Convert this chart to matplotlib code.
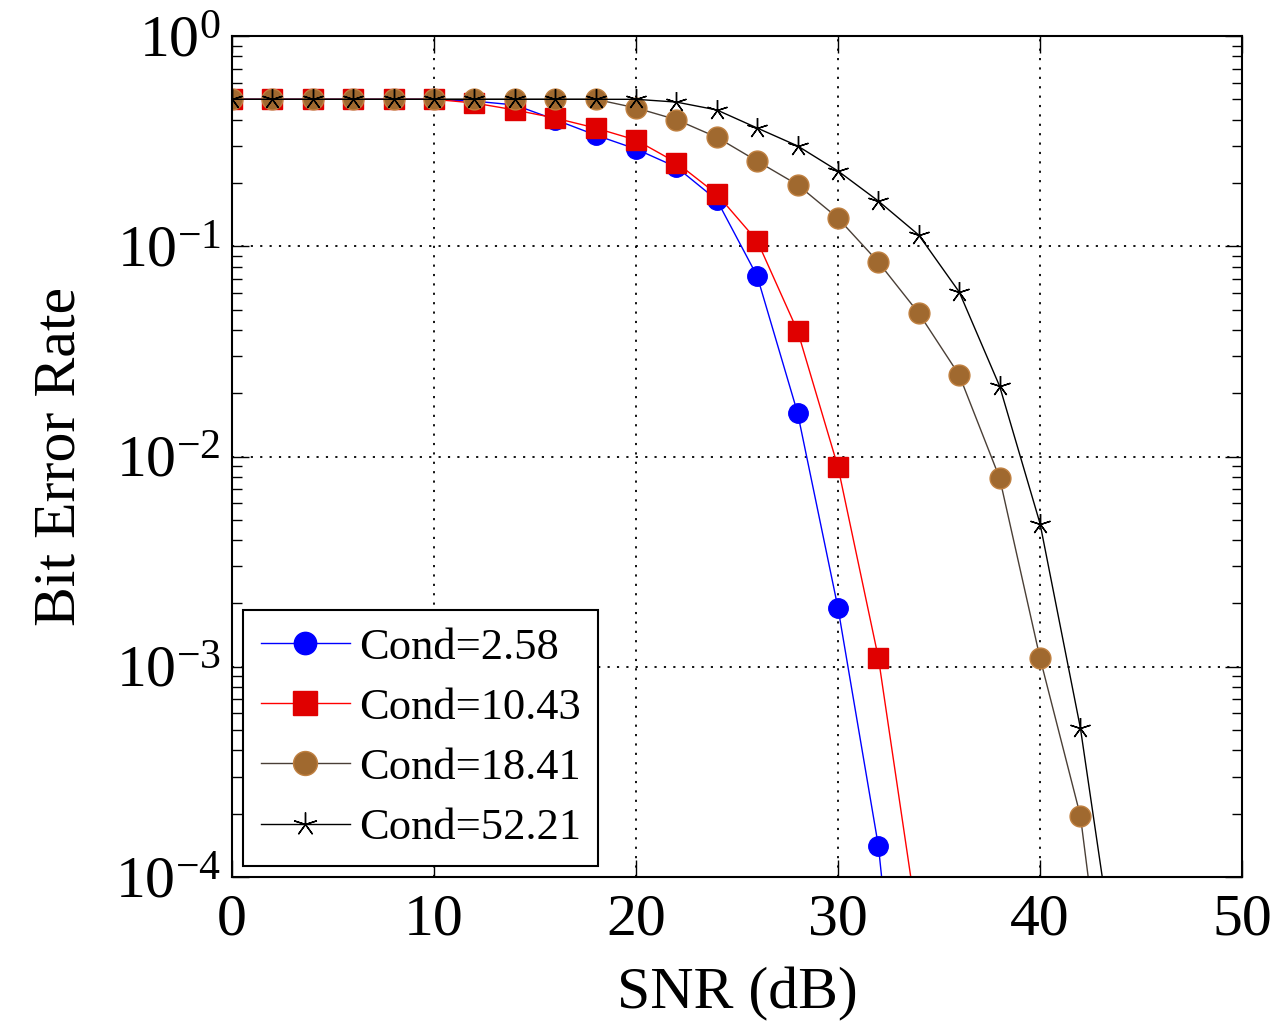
import matplotlib.pyplot as plt
import numpy as np

plt.rcParams['font.family'] = ['Liberation Serif', 'DejaVu Serif']
plt.rcParams['mathtext.fontset'] = 'stix'

snr = [0, 2, 4, 6, 8, 10, 12, 14, 16, 18, 20, 22, 24, 26, 28, 30, 32, 34, 36, 38, 40, 42, 44]

ber_258 = [0.5, 0.5, 0.5, 0.5, 0.5, 0.5, 0.49, 0.47, 0.40, 0.338, 0.29, 0.238,
           0.166, 0.072, 0.0161, 0.0019, 1.4e-4, 2e-6]
ber_1043 = [0.5, 0.5, 0.5, 0.5, 0.5, 0.5, 0.48, 0.445, 0.407, 0.365, 0.32, 0.25,
            0.177, 0.106, 0.0395, 0.0089, 0.0011, 5.5e-5]
ber_1841 = [0.5, 0.5, 0.5, 0.5, 0.5, 0.5, 0.5, 0.5, 0.5, 0.5, 0.455, 0.40,
            0.33, 0.254, 0.196, 0.136, 0.084, 0.048, 0.0244, 0.0079, 0.0011,
            1.95e-4, 6e-6]
ber_5221 = [0.5, 0.5, 0.5, 0.5, 0.5, 0.5, 0.5, 0.5, 0.5, 0.5, 0.5, 0.485,
            0.445, 0.365, 0.30, 0.228, 0.164, 0.113, 0.0606, 0.0216, 0.0048,
            5.1e-4, 2.5e-5]

fig = plt.figure(figsize=(12.79, 10.32), dpi=100)
ax = fig.add_axes([0.1814, 0.1502, 0.7897, 0.8149])

brown = '#a0692f'
ax.plot(snr[:len(ber_258)], ber_258, color='blue', lw=1.0, marker='o', ms=14,
        mfc='blue', mec='blue', label='Cond=2.58')
ax.plot(snr[:len(ber_1043)], ber_1043, color='red', lw=1.0, marker='s', ms=15,
        mfc='#e00000', mec='#e00000', label='Cond=10.43')
ax.plot(snr[:len(ber_1841)], ber_1841, color='#4a3f36', lw=1.0, marker='o', ms=15,
        mfc=brown, mec='#c08040', label='Cond=18.41')
ax.plot(snr[:len(ber_5221)], ber_5221, color='black', lw=1.0, marker=(5, 2, 0), ms=15,
        mec='black', mew=1.0, label='Cond=52.21')

ax.set_yscale('log')
ax.set_xlim(0, 50)
ax.set_ylim(1e-4, 1)
ax.set_xticks([0, 10, 20, 30, 40, 50])
ax.set_yticks([1e-4, 1e-3, 1e-2, 1e-1, 1])

ax.grid(True, which='major', color='black', linestyle=(0, (1.2, 4)), linewidth=1.3)
ax.tick_params(which='both', direction='in', top=True, right=True, labelsize=43)
ax.tick_params(axis='x', pad=12)
ax.tick_params(axis='y', pad=8)
ax.tick_params(which='major', length=12, width=1)
ax.tick_params(which='minor', length=7, width=1)
ax.tick_params(axis='x', which='minor', bottom=False, top=False)
for s in ax.spines.values():
    s.set_linewidth(1.5)

ax.set_xlabel('SNR (dB)', fontsize=43, labelpad=14)
ax.set_ylabel('Bit Error Rate', fontsize=43, labelpad=20)

leg = ax.legend(loc='lower left', fontsize=32, frameon=True, fancybox=False,
                edgecolor='black', framealpha=1, handlelength=2.0, borderpad=0.4,
                labelspacing=0.45, handletextpad=0.2, borderaxespad=0.25,
                markerscale=1.15)
leg.get_frame().set_linewidth(1.5)

fig.savefig('out.png', dpi=100)
